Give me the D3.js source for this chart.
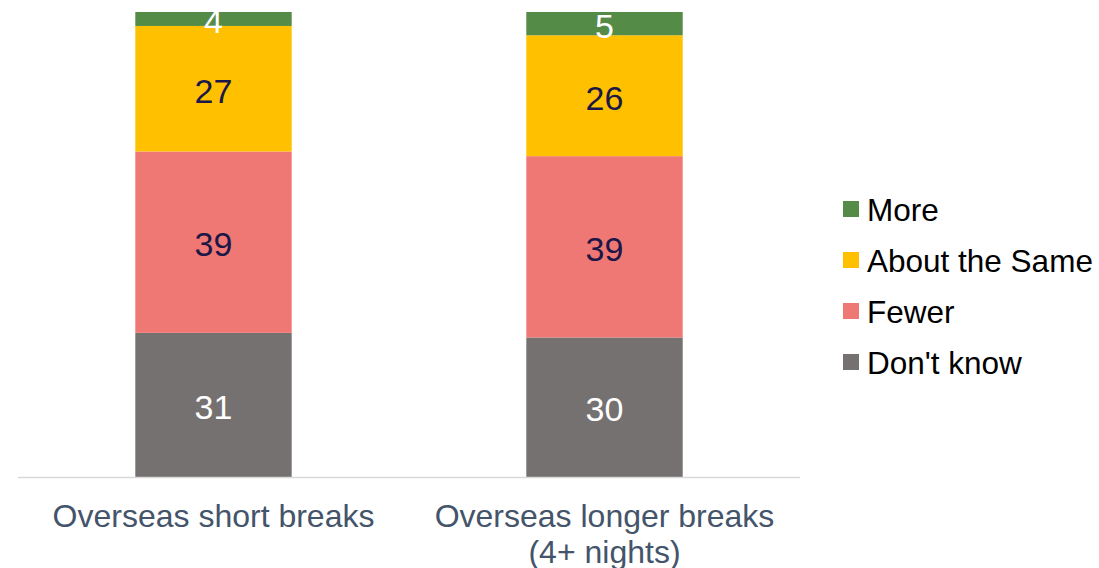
<!DOCTYPE html>
<html>
<head>
<meta charset="utf-8">
<script src="https://cdn.jsdelivr.net/npm/d3@7"></script>
<style>
  body { margin: 0; background: #fff; }
  svg { display: block; font-family: Arial, "Liberation Sans", sans-serif; }
</style>
</head>
<body>
<div id="chart"></div>
<script>
const categories = ["Overseas short breaks", "Overseas longer breaks\n(4+ nights)"]
const seriesNames = ["Don't know", "Fewer", "About the Same", "More"]
const dontKnow = [31, 30]
const fewer = [39, 39]
const aboutSame = [27, 26]
const more = [4, 5]
const legendOrder = ["More", "About the Same", "Fewer", "Don't know"]

const colors = {
  "More": "#548B47",
  "About the Same": "#FFC000",
  "Fewer": "#F07874",
  "Don't know": "#767171"
}
const labelColors = {
  "More": "#fff",
  "About the Same": "#1B1747",
  "Fewer": "#1B1747",
  "Don't know": "#fff"
}

const W = 1099, H = 568
const plot = { left: 18, right: 800, top: 12, bottom: 477 }

const rows = categories.map((c, i) => ({
  cat: c,
  "Don't know": dontKnow[i],
  "Fewer": fewer[i],
  "About the Same": aboutSame[i],
  "More": more[i]
}))
const stacked = d3.stack().keys(seriesNames)(rows)

const x = d3.scaleBand().domain(categories)
  .range([plot.left, plot.right]).paddingInner(0.6).paddingOuter(0.3)
const y = d3.scaleLinear().domain([0, 100]).range([plot.bottom, plot.top])

const svg = d3.select("#chart").append("svg").attr("width", W).attr("height", H)

svg.append("defs").append("clipPath").attr("id", "plotclip")
  .append("rect").attr("x", 0).attr("y", plot.top)
  .attr("width", plot.right + 10).attr("height", plot.bottom - plot.top)

const g = svg.append("g").attr("clip-path", "url(#plotclip)")

const layer = g.selectAll("g.layer").data(stacked).join("g").attr("class", "layer")
layer.selectAll("rect").data(d => d.map(p => ({ p, key: d.key }))).join("rect")
  .attr("x", d => x(d.p.data.cat))
  .attr("width", x.bandwidth())
  .attr("y", d => y(d.p[1]))
  .attr("height", d => y(d.p[0]) - y(d.p[1]))
  .attr("fill", d => colors[d.key])

layer.selectAll("text").data(d => d.map(p => ({ p, key: d.key }))).join("text")
  .attr("x", d => x(d.p.data.cat) + x.bandwidth() / 2)
  .attr("y", d => {
    const top = Math.max(y(d.p[1]), plot.top)
    return (top + y(d.p[0])) / 2 + 2
  })
  .attr("text-anchor", "middle")
  .attr("dominant-baseline", "central")
  .attr("font-size", 34)
  .attr("fill", d => labelColors[d.key])
  .text(d => d.p[1] - d.p[0])

// baseline
svg.append("line")
  .attr("x1", plot.left).attr("x2", plot.right)
  .attr("y1", plot.bottom + 0.5).attr("y2", plot.bottom + 0.5)
  .attr("stroke", "#D9D9D9").attr("stroke-width", 1.5)

// category labels
svg.selectAll("text.cat").data(categories).join("text")
  .attr("class", "cat")
  .attr("x", d => x(d) + x.bandwidth() / 2)
  .attr("y", 527)
  .attr("text-anchor", "middle")
  .attr("font-size", 32)
  .attr("fill", "#44546A")
  .each(function (d) {
    const t = d3.select(this)
    d.split("\n").forEach((line, i) => {
      t.append("tspan").attr("x", x(d) + x.bandwidth() / 2)
        .attr("dy", i === 0 ? 0 : 36).text(line)
    })
  })

// legend
const legend = svg.append("g").attr("transform", "translate(843,209)")
const item = legend.selectAll("g").data(legendOrder).join("g")
  .attr("transform", (d, i) => `translate(0,${i * 51})`)
item.append("rect").attr("x", 0).attr("y", -8).attr("width", 16).attr("height", 16)
  .attr("fill", d => colors[d])
item.append("text").attr("x", 24).attr("y", 1)
  .attr("dominant-baseline", "central")
  .attr("font-size", 31.5)
  .attr("fill", "#000")
  .text(d => d)
</script>
</body>
</html>
